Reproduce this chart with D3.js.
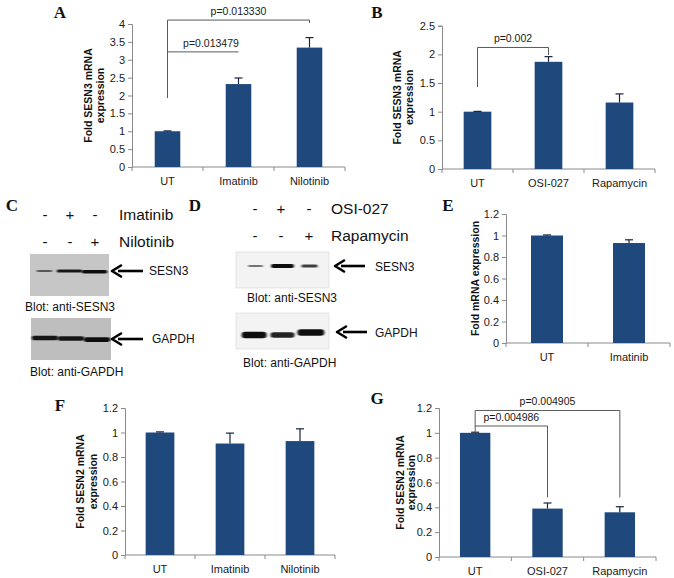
<!DOCTYPE html>
<html><head><meta charset="utf-8">
<script src="https://cdn.jsdelivr.net/npm/d3@7"></script>
<style>
html,body{margin:0;padding:0;background:#fff;}
svg{display:block;font-family:"Liberation Sans",Arial,sans-serif;}
</style></head>
<body><svg id="fig" width="674" height="578"></svg>
<script>
// ---------- data ----------
const catsA = ["UT","Imatinib","Nilotinib"];
const valsA = [1.0, 2.32, 3.34];
const errsA = [0.01, 0.17, 0.28];
const ticksA = [0,0.5,1,1.5,2,2.5,3,3.5,4];

const catsB = ["UT","OSI-027","Rapamycin"];
const valsB = [1.0, 1.87, 1.16];
const errsB = [0.005, 0.09, 0.15];
const ticksB = [0,0.5,1,1.5,2,2.5];

const catsE = ["UT","Imatinib"];
const valsE = [1.0, 0.93];
const errsE = [0.005, 0.03];

const catsF = ["UT","Imatinib","Nilotinib"];
const valsF = [1.0, 0.91, 0.93];
const errsF = [0.005, 0.085, 0.10];

const catsG = ["UT","OSI-027","Rapamycin"];
const valsG = [1.0, 0.39, 0.36];
const errsG = [0.005, 0.045, 0.045];

const ticksSmall = [0,0.2,0.4,0.6,0.8,1,1.2];

const bracketsA = [
  {a:0,b:1,top:3.22,leftEnd:1.93,rightEnd:3.22,label:"p=0.013479"},
  {a:0,b:2,top:4.11,leftEnd:1.93,rightEnd:4.03,label:"p=0.013330"}
];
const bracketsB = [
  {a:0,b:1,top:2.12,leftEnd:1.43,rightEnd:1.99,label:"p=0.002"}
];
const bracketsG = [
  {a:0,b:2,top:1.18,leftEnd:1.055,rightEnd:0.48,label:"p=0.004905"},
  {a:0,b:1,top:1.055,leftEnd:1.0,rightEnd:0.48,label:"p=0.004986"}
];

// western blot lane treatments and band intensities
const treatC1 = ["-","+","-"], treatC2 = ["-","-","+"];
const treatD1 = ["-","+","-"], treatD2 = ["-","-","+"];
const bandsCSesn3 = [0.55, 0.9, 0.95];
const bandsCGapdh = [0.9, 0.9, 0.95];
const bandsDSesn3 = [0.5, 0.95, 0.75];
const bandsDGapdh = [1.0, 0.85, 1.0];

// ---------- drawing ----------
const svg = d3.select("#fig");
const barColor = "#1f497d", axisColor = "#8a8a8a", errColor = "#18243a";
const defs = svg.append("defs");
defs.append("filter").attr("id","blur").attr("x","-20%").attr("y","-200%").attr("width","140%").attr("height","500%")
  .append("feGaussianBlur").attr("stdDeviation","0.9 0.7");

function barPanel(c){
  const g = svg.append("g");
  const y = d3.scaleLinear().domain([0,c.max]).range([c.y0,c.yTop]);
  const x = d3.scaleBand().domain(c.cats).range([c.x0,c.x1]).paddingInner(c.pad).paddingOuter(c.pad/2);
  const cx = i => x(c.cats[i]) + x.bandwidth()/2;
  // y axis
  const ya = g.append("g").attr("transform",`translate(${c.x0},0)`)
    .call(d3.axisLeft(y).tickValues(c.ticks).tickSize(4).tickPadding(3).tickFormat(d3.format("~g")));
  ya.select(".domain").attr("stroke",axisColor);
  ya.selectAll(".tick line").attr("stroke",axisColor);
  ya.selectAll(".tick text").attr("font-size",11).attr("fill","#1a1a1a").attr("font-family","Liberation Sans, Arial, sans-serif");
  // x axis
  g.append("line").attr("x1",c.x0).attr("x2",c.x1).attr("y1",c.y0).attr("y2",c.y0).attr("stroke",axisColor);
  g.selectAll(".xt").data(d3.range(c.cats.length+1)).enter().append("line")
    .attr("x1",i=>c.x0+i*x.step()).attr("x2",i=>c.x0+i*x.step())
    .attr("y1",c.y0).attr("y2",c.y0+4).attr("stroke",axisColor);
  g.selectAll(".xl").data(c.cats).enter().append("text")
    .attr("x",(d,i)=>cx(i)).attr("y",c.y0+18).attr("text-anchor","middle")
    .attr("font-size",11).attr("fill","#1a1a1a").text(d=>d);
  // bars
  g.selectAll(".bar").data(c.vals).enter().append("rect")
    .attr("x",(d,i)=>x(c.cats[i])).attr("width",x.bandwidth())
    .attr("y",d=>y(d)).attr("height",d=>c.y0-y(d)).attr("fill",barColor);
  // error bars
  c.vals.forEach((v,i)=>{
    const e = c.errs[i];
    g.append("line").attr("x1",cx(i)).attr("x2",cx(i)).attr("y1",y(v)).attr("y2",y(v+e)).attr("stroke",errColor).attr("stroke-width",1.2);
    g.append("line").attr("x1",cx(i)-4).attr("x2",cx(i)+4).attr("y1",y(v+e)).attr("y2",y(v+e)).attr("stroke",errColor).attr("stroke-width",1.2);
  });
  // title
  const my = (c.y0+c.yTop)/2;
  c.title.forEach((t,k)=>{
    g.append("text").attr("transform",`translate(${c.x0+c.titleOff[k]},${my}) rotate(-90)`)
      .attr("text-anchor","middle").attr("dy","0.35em").attr("font-size",10.5).attr("font-weight","bold")
      .attr("fill","#111").text(t);
  });
  // brackets
  (c.brackets||[]).forEach(b=>{
    const xa = cx(b.a), xb = cx(b.b), yt = y(b.top);
    g.append("path").attr("d",`M${xa},${y(b.leftEnd)}V${yt}H${xb}V${y(b.rightEnd)}`)
      .attr("fill","none").attr("stroke","#5a5a5a").attr("stroke-width",1);
    g.append("text").attr("x",(xa+xb)/2 + (b.a===0&&b.b===1&&c.labelShift?c.labelShift:0)).attr("y",yt-5)
      .attr("text-anchor","middle").attr("font-size",10.5).attr("fill","#1a1a1a").text(b.label);
  });
}

barPanel({cats:catsA,vals:valsA,errs:errsA,ticks:ticksA,max:4,x0:132,x1:345,y0:167,yTop:24,pad:0.64,
  title:["Fold SESN3 mRNA","expression"],titleOff:[-44,-32],brackets:bracketsA,labelShift:8});
barPanel({cats:catsB,vals:valsB,errs:errsB,ticks:ticksB,max:2.5,x0:442,x1:655,y0:169,yTop:25.7,pad:0.61,
  title:["Fold SESN3 mRNA","expression"],titleOff:[-45,-33],brackets:bracketsB});
barPanel({cats:catsE,vals:valsE,errs:errsE,ticks:ticksSmall,max:1.2,x0:506,x1:670,y0:343,yTop:214,pad:0.61,
  title:["Fold mRNA expression"],titleOff:[-31]});
barPanel({cats:catsF,vals:valsF,errs:errsF,ticks:ticksSmall,max:1.2,x0:125,x1:335,y0:555,yTop:408,pad:0.59,
  title:["Fold SESN2 mRNA","expression"],titleOff:[-45,-32]});
barPanel({cats:catsG,vals:valsG,errs:errsG,ticks:ticksSmall,max:1.2,x0:439,x1:656,y0:557,yTop:408,pad:0.58,
  title:["Fold SESN2 mRNA","expression"],titleOff:[-39,-28],brackets:bracketsG});

// panel letters
const letters = [["A",60,18],["B",377,18],["C",12,211],["D",195,211],["E",448,211],["F",60,411],["G",377,404]];
svg.selectAll(".lt").data(letters).enter().append("text")
  .attr("x",d=>d[1]).attr("y",d=>d[2]).attr("text-anchor","middle")
  .attr("font-family","Liberation Serif, Times New Roman, serif").attr("font-weight","bold").attr("font-size",17)
  .attr("fill","#111").text(d=>d[0]);

// ---------- blots ----------
function arrow(xTip,xTail,yy){
  svg.append("line").attr("x1",xTip+6).attr("x2",xTail).attr("y1",yy).attr("y2",yy).attr("stroke","#000").attr("stroke-width",2.6);
  svg.append("path").attr("d",`M${xTip},${yy} L${xTip+9},${yy-5.5} M${xTip},${yy} L${xTip+9},${yy+5.5}`)
    .attr("stroke","#000").attr("stroke-width",2.6).attr("fill","none").attr("stroke-linecap","round");
}
function blot(b){
  svg.append("rect").attr("x",b.x).attr("y",b.y).attr("width",b.w).attr("height",b.h)
    .attr("fill",b.bg).attr("stroke",b.border||"none").attr("stroke-width",0.6);
  const lane = d3.scaleBand().domain(d3.range(b.bands.length)).range([b.x+b.inset,b.x+b.w-b.inset]).padding(0);
  b.bands.forEach((v,i)=>{
    const w = lane.bandwidth()*b.widths[i];
    const c0 = lane(i)+lane.bandwidth()/2;
    const th = b.thick*v;
    svg.append("rect").attr("x",c0-w/2).attr("y",b.bandY + b.dy[i] - th/2).attr("width",w).attr("height",th)
      .attr("rx",th/2).attr("fill","#111").attr("opacity",Math.min(1,v+0.05)).attr("filter","url(#blur)");
  });
}
function treatRows(xs, row, yy, name, nameX){
  svg.selectAll(null).data(row).enter().append("text").attr("x",(d,i)=>xs[i]).attr("y",yy)
    .attr("text-anchor","middle").attr("font-size",15).attr("fill","#111").text(d=>d);
  svg.append("text").attr("x",nameX).attr("y",yy).attr("font-size",15.5).attr("fill","#111").text(name);
}
// C
treatRows([45,70,95],treatC1,220,"Imatinib",119);
treatRows([45,70,95],treatC2,247,"Nilotinib",119);
blot({x:30,y:254,w:79,h:42,bg:"#c6c6c6",inset:2,bands:bandsCSesn3,widths:[0.62,1.02,1.02],thick:3.6,bandY:271,dy:[0,0,0.8]});
blot({x:31,y:318,w:80,h:42,bg:"#bebebe",inset:1,bands:bandsCGapdh,widths:[1.02,1.02,1.02],thick:5,bandY:338,dy:[0,0.5,1.5]});
arrow(112,143,271); arrow(112,143,339);
svg.append("text").attr("x",149).attr("y",275).attr("font-size",12).attr("fill","#111").text("SESN3");
svg.append("text").attr("x",152).attr("y",343).attr("font-size",12).attr("fill","#111").text("GAPDH");
svg.append("text").attr("x",25).attr("y",311).attr("font-size",12).attr("fill","#111").text("Blot: anti-SESN3");
svg.append("text").attr("x",30).attr("y",376).attr("font-size",12).attr("fill","#111").text("Blot: anti-GAPDH");
// D
treatRows([255,281,309],treatD1,214,"OSI-027",331);
treatRows([255,281,309],treatD2,241,"Rapamycin",331);
blot({x:236,y:252,w:93,h:36,bg:"#f3f3f3",border:"#d8d8d8",inset:6,bands:bandsDSesn3,widths:[0.55,0.85,0.6],thick:4,bandY:266,dy:[0,0,0]});
blot({x:236,y:313,w:93,h:36,bg:"#f3f3f3",border:"#d8d8d8",inset:4,bands:bandsDGapdh,widths:[0.88,0.85,0.95],thick:6.5,bandY:335,dy:[0,0,-2.5]});
arrow(335,365,266); arrow(337,367,332);
svg.append("text").attr("x",375).attr("y",271).attr("font-size",12).attr("fill","#111").text("SESN3");
svg.append("text").attr("x",375).attr("y",337).attr("font-size",12).attr("fill","#111").text("GAPDH");
svg.append("text").attr("x",247).attr("y",302).attr("font-size",12).attr("fill","#111").text("Blot: anti-SESN3");
svg.append("text").attr("x",243).attr("y",367).attr("font-size",12).attr("fill","#111").text("Blot: anti-GAPDH");
</script></body></html>
